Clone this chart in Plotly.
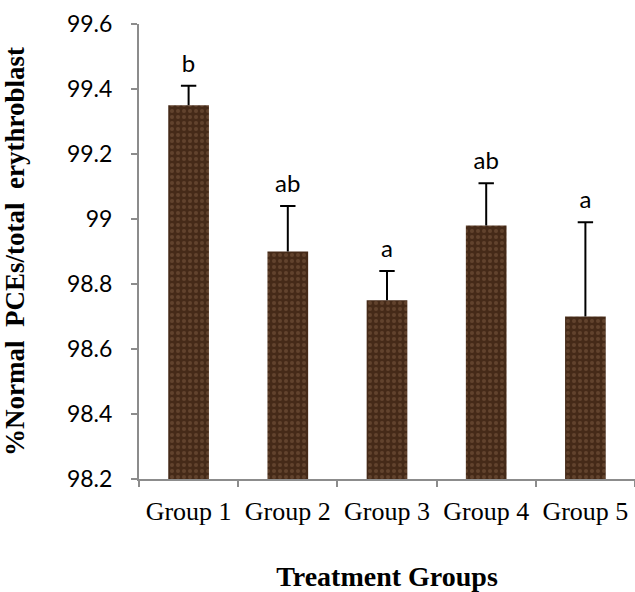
import plotly.graph_objects as go

groups = ["Group 1", "Group 2", "Group 3", "Group 4", "Group 5"]
means = [99.35, 98.90, 98.75, 98.98, 98.70]
errors = [0.06, 0.14, 0.09, 0.13, 0.29]
letters = ["b", "ab", "a", "ab", "a"]

tops = [m + e for m, e in zip(means, errors)]

fig = go.Figure()

fig.add_trace(go.Bar(
    x=groups, y=[m - 98.2 for m in means], base=98.2, width=0.41,
    marker=dict(color="#4a2e1c", line=dict(width=0),
                pattern=dict(shape=".", fgcolor="#7d5c42", bgcolor="#452a18",
                             size=6, solidity=0.35)),
    hoverinfo="skip", showlegend=False,
))

# vertical error lines (plus only)
ex, ey = [], []
for g, m, t in zip(groups, means, tops):
    ex += [g, g, None]
    ey += [m, t, None]
fig.add_trace(go.Scatter(x=ex, y=ey, mode="lines", line=dict(color="black", width=2),
                         showlegend=False, hoverinfo="skip"))
# caps + letters
fig.add_trace(go.Scatter(
    x=groups, y=tops, mode="markers+text",
    marker=dict(symbol="line-ew", size=11, line=dict(color="black", width=2)),
    text=letters, textposition="top center",
    textfont=dict(family="Lato, Open Sans, sans-serif", size=24, color="black"),
    showlegend=False, hoverinfo="skip", cliponaxis=False,
))

serif = "Liberation Serif, Times New Roman, serif"
fig.update_layout(
    width=635, height=592,
    margin=dict(l=139, r=0, t=24, b=113, autoexpand=False),
    plot_bgcolor="white", paper_bgcolor="white",
    xaxis=dict(
        type="category", showline=True, linecolor="#8c8c8c", linewidth=2,
        ticks="outside", tickson="boundaries", ticklen=6, tickcolor="#8c8c8c", tickwidth=2,
        ticklabelstandoff=8, automargin=False,
        tickfont=dict(family=serif, size=26, color="black"),
        title=dict(text="<b>Treatment Groups</b>", standoff=42,
                   font=dict(family=serif, size=28, color="black")),
        showgrid=False,
    ),
    yaxis=dict(
        range=[98.2, 99.6], tickmode="array",
        tickvals=[98.2, 98.4, 98.6, 98.8, 99.0, 99.2, 99.4, 99.6],
        ticktext=["98.2", "98.4", "98.6", "98.8", "99", "99.2", "99.4", "99.6"],
        showline=True, linecolor="#8c8c8c", linewidth=2,
        ticks="outside", ticklen=6, tickcolor="#8c8c8c", tickwidth=2,
        ticklabelstandoff=14, automargin=False,
        tickfont=dict(family="Lato, Open Sans, sans-serif", size=23, color="black"),
        showgrid=False, zeroline=False,
        title=dict(text="<b>%Normal\u00a0 PCEs/total\u00a0 erythroblast</b>", standoff=34,
                   font=dict(family=serif, size=27, color="black")),
    ),
)

fig.write_html("out.html", config={"displayModeBar": False},
               post_script="document.body.style.margin='0';document.body.style.overflow='hidden';")
